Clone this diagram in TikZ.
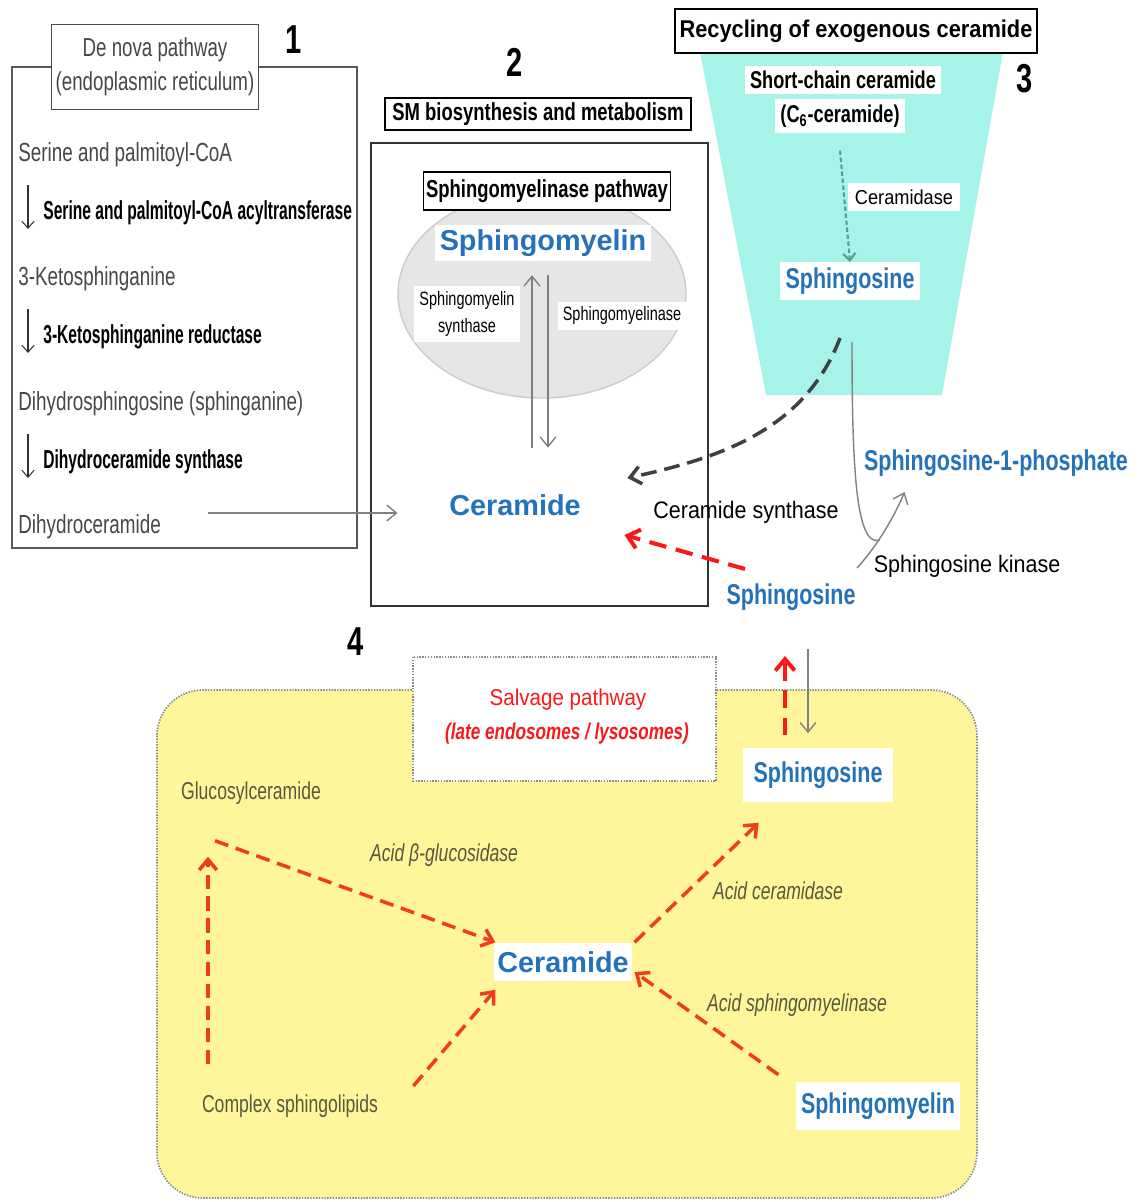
\documentclass[tikz,border=0pt]{standalone}
\usepackage{fontspec}
\setmainfont{Liberation Sans}
\newfontfamily\cnd{Liberation Sans}[FakeStretch=0.72]
\newfontfamily\tight{Liberation Sans}[FakeStretch=0.75]
\newfontfamily\ncw{Liberation Sans}[FakeStretch=0.6]
\newfontfamily\midfont{Liberation Sans}[FakeStretch=0.9]
\usetikzlibrary{arrows.meta}

\definecolor{labblue}{RGB}{36,114,186}
\definecolor{trapcyan}{RGB}{166,243,233}
\definecolor{salvyellow}{RGB}{255,246,156}
\definecolor{salvred}{RGB}{240,60,32}
\definecolor{brightred}{RGB}{250,25,25}
\definecolor{olivetxt}{RGB}{88,88,60}
\definecolor{ovalgray}{RGB}{230,230,230}
\definecolor{tealarr}{RGB}{80,160,150}

\tikzset{
  plain/.style={anchor=west, inner sep=0pt, text=black!72, font=\cnd\fontsize{14.9}{16}\selectfont},
  enzyme/.style={anchor=west, inner sep=0pt, font=\ncw\bfseries\fontsize{14.8}{16}\selectfont},
  titlebox/.style={draw, line width=0.8pt, fill=white, inner sep=0pt, font=\tight\bfseries\fontsize{14}{16}\selectfont},
  bluebig/.style={text=labblue, fill=white, inner sep=2.5pt, font=\bfseries\fontsize{16.4}{18}\selectfont},
  bluelab/.style={text=labblue, fill=white, inner sep=3pt, font=\tight\bfseries\fontsize{16.3}{18}\selectfont},
  smalltxt/.style={fill=white, inner sep=3pt, align=center, font=\tight\fontsize{11}{15.4}\selectfont},
  midtxt/.style={inner sep=0pt, font=\midfont\fontsize{13.6}{16}\selectfont},
  number/.style={inner sep=0pt, font=\cnd\bfseries\fontsize{23}{24}\selectfont},
  olive/.style={text=olivetxt, inner sep=0pt, font=\cnd\fontsize{13.9}{15}\selectfont},
  steparr/.style={draw=black!80, line width=0.6pt, -{Straight Barb[length=4pt,width=7pt]}},
  grayarr/.style={draw=black!50, line width=0.8pt, -{Straight Barb[length=5.5pt,width=9pt]}},
  redarr/.style={draw=salvred, line width=2pt, dash pattern=on 8pt off 4.5pt, -{Straight Barb[length=6pt,width=10pt,line width=2pt]}},
  hotarr/.style={draw=brightred, line width=2.3pt, dash pattern=on 10pt off 5.5pt, -{Straight Barb[length=6.5pt,width=11pt,line width=2.3pt]}},
  darkarr/.style={draw=black!75, line width=2pt, dash pattern=on 9pt off 4.5pt, -{Straight Barb[length=6pt,width=10pt,line width=2pt]}},
}

\begin{document}
\begin{tikzpicture}[x=0.02cm, y=-0.02cm]
\useasboundingbox (0,0) rectangle (1144,1202);

% 1: de novo
\draw[draw=black!65, line width=0.9pt] (12,67) rectangle (357,548);
\node[draw=black!70, line width=0.8pt, fill=white, align=center, text=black!72, inner sep=0pt,
  minimum width=117.8pt, minimum height=48.4pt, font=\cnd\fontsize{14.8}{19.4}\selectfont]
  (dnhead) at (155,67) {De nova pathway\\(endoplasmic reticulum)};
\node[number] (n1) at (294,40) {1};

\node[plain] (ser) at (18,155) {Serine and palmitoyl-CoA};
\node[enzyme] (enz1) at (43,213) {Serine and palmitoyl-CoA acyltransferase};
\node[plain] (keto) at (18,279) {3-Ketosphinganine};
\node[enzyme] (enz2) at (43,337) {3-Ketosphinganine reductase};
\node[plain] (dhs) at (18,404) {Dihydrosphingosine (sphinganine)};
\node[enzyme] (enz3) at (43,462) {Dihydroceramide synthase};
\node[plain] (dhc) at (18,527) {Dihydroceramide};
\foreach \e in {enz1,enz2,enz3}
  \draw[steparr] ([shift={(-15,-28)}]\e.west) -- ([shift={(-15,16)}]\e.west);

% 2: SM
\node[number] (n2) at (515,62) {2};
\node[titlebox, minimum width=174pt, minimum height=18.2pt] (smhead) at (538,114) {SM biosynthesis and metabolism};
\draw[draw=black!80, line width=1.3pt] (371,143) rectangle (708,606);
\draw[fill=ovalgray, draw=black!20, line width=0.8pt] (542,294) ellipse [x radius=144, y radius=104];
\node[titlebox, minimum width=140.6pt, minimum height=21.6pt] (smpath) at (547,191) {Sphingomyelinase pathway};
\node[bluebig] (smy2) at (543,243) {Sphingomyelin};
\node[smalltxt] (sms) at (467,314) {Sphingomyelin\\synthase};
\node[smalltxt] (smase) at (622,316) {Sphingomyelinase};
\node[bluebig] (cer2) at (515,505) {Ceramide};
\draw[grayarr] ([shift={(17,-42)}]cer2.north) -- ([shift={(-11,14)}]smy2.south);
\draw[grayarr] ([shift={(5,14)}]smy2.south) -- ([shift={(33,-42)}]cer2.north);
\draw[grayarr] ([shift={(47,-14)}]dhc.east) -- ([shift={(-47,8)}]cer2.west);

% 3: exogenous ceramide
\fill[trapcyan] (700,52) -- (1003,52) -- (942,395) -- (766,395) -- cycle;
\node[titlebox, minimum width=206pt, minimum height=25pt, font=\midfont\bfseries\fontsize{13.8}{16}\selectfont]
  (rechead) at (856,31) {Recycling of exogenous ceramide};
\node[number] (n3) at (1025,79) {3};
\node[fill=white, inner sep=3pt, font=\tight\bfseries\fontsize{13.8}{16}\selectfont] (sc1) at (843,80) {Short-chain ceramide};
\node[fill=white, inner sep=3pt, font=\tight\bfseries\fontsize{13.8}{16}\selectfont] (sc2) at (840,116) {(C\textsubscript{6}-ceramide)};
\node[fill=white, inner sep=4pt, font=\midfont\fontsize{11.5}{14}\selectfont] (cdase) at (904,197) {Ceramidase};
\node[bluelab] (sph1) at (850,281) {Sphingosine};
\draw[draw=tealarr, line width=1.2pt, dash pattern=on 2.5pt off 1.5pt, -{Straight Barb[length=4pt,width=7pt]}]
  ([yshift=-10pt]sc2.south) -- (sph1.north);

% conversions around sphingosine
\node[bluelab, fill=none] (s1p) at (996,463) {Sphingosine-1-phosphate};
\node[midtxt] (csyn) at (746,512) {Ceramide synthase};
\node[midtxt] (skin) at (967,566) {Sphingosine kinase};
\node[bluelab] (sph2) at (791,597) {Sphingosine};
\draw[darkarr] ([shift={(-10,38)}]sph1.south) .. controls (805,430) and (720,458) .. ([shift={(42,-27)}]cer2.east);
\draw[draw=black!50, line width=0.8pt] ([shift={(2,42)}]sph1.south) .. controls (852,470) and (856,548) .. (880,540);
\draw[grayarr] ([shift={(-4,-10)}]sph2.north east) .. controls (878,545) and (895,515) .. ([shift={(46,10)}]s1p.south west);
\draw[hotarr] ([shift={(-46,-9)}]sph2.north) -- ([shift={(39,30)}]cer2.east);

% 4: salvage
\node[number] (n4) at (356,642) {4};
\draw[fill=salvyellow, draw=black!45, line width=1pt, dash pattern=on 0.8pt off 0.8pt, rounded corners=26pt] (157,690) rectangle (977,1198);
\draw[fill=white, draw=black!45, line width=1pt, dash pattern=on 0.8pt off 0.8pt] (413,657) rectangle (716,781);
\node[inner sep=0pt, text=brightred, font=\midfont\fontsize{13}{16}\selectfont] (salv) at (568,700) {Salvage pathway};
\node[inner sep=0pt, text=brightred, font=\tight\bfseries\itshape\fontsize{13}{15}\selectfont] (salvloc) at (567,734) {(late endosomes / lysosomes)};

\node[bluelab, inner xsep=6pt, inner ysep=8pt] (sph3) at (818,775) {Sphingosine};
\node[olive] (gluc) at (251,793) {Glucosylceramide};
\node[olive, font=\cnd\itshape\fontsize{13.9}{15}\selectfont] (glcase) at (444,855) {Acid β-glucosidase};
\node[olive, font=\cnd\itshape\fontsize{13.9}{15}\selectfont] (acdase) at (778,891) {Acid ceramidase};
\node[olive, font=\cnd\itshape\fontsize{13.9}{15}\selectfont] (asmase) at (797,1005) {Acid sphingomyelinase};
\node[bluebig, inner xsep=2pt, inner ysep=5pt] (cer3) at (563,962) {Ceramide};
\node[olive] (cplx) at (290,1106) {Complex sphingolipids};
\node[bluelab, inner xsep=3pt, inner ysep=6pt] (smy3) at (878,1106) {Sphingomyelin};

\draw[hotarr] ([shift={(-33,-12)}]sph3.north) -- ([shift={(-6,40)}]sph2.south);
\draw[grayarr] ([shift={(17,33)}]sph2.south) -- ([shift={(-10,-14)}]sph3.north);
\draw[redarr] ([shift={(-36,36)}]gluc.south) -- ([shift={(2,0)}]cer3.north west);
\draw[redarr] ([shift={(-82,-30)}]cplx.north) -- ([shift={(-43,52)}]gluc.south);
\draw[redarr] ([shift={(35,-20)}]cplx.east) -- ([shift={(2,8)}]cer3.south west);
\draw[redarr] ([shift={(2,0)}]cer3.north east) -- ([shift={(16,20)}]sph3.south west);
\draw[redarr] ([shift={(-17,-7)}]smy3.north west) -- ([shift={(2,10)}]cer3.east);
\end{tikzpicture}
\end{document}
